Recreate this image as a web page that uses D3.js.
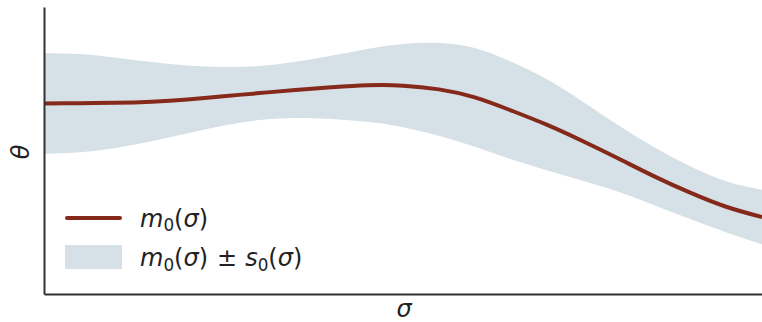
<!DOCTYPE html>
<html>
<head>
<meta charset="utf-8">
<script src="https://cdn.jsdelivr.net/npm/d3@7"></script>
<style>
  html, body { margin: 0; padding: 0; background: #ffffff; }
  svg { display: block; }
  text { font-family: "DejaVu Sans", sans-serif; fill: #222222; }
</style>
</head>
<body>
<svg id="chart" width="762" height="322"></svg>
<script>
// Sample locations along sigma (normalised 0..1)
const sigma = [0, 0.05, 0.10, 0.15, 0.20, 0.25, 0.30, 0.35, 0.40, 0.45, 0.50,
               0.55, 0.60, 0.65, 0.70, 0.75, 0.80, 0.85, 0.90, 0.95, 1.00];
// Posterior mean m0(sigma)
const meanValues = [0.664, 0.665, 0.666, 0.670, 0.678, 0.689, 0.700, 0.711, 0.720, 0.727, 0.726,
                    0.713, 0.685, 0.640, 0.590, 0.533, 0.472, 0.410, 0.353, 0.304, 0.268];
// Posterior standard deviation s0(sigma)
const sdValues = [0.175, 0.171, 0.157, 0.138, 0.118, 0.102, 0.094, 0.098, 0.110, 0.127, 0.145,
                  0.162, 0.172, 0.170, 0.159, 0.138, 0.116, 0.101, 0.092, 0.089, 0.095];
const thetaDomain = [0, 1];

const svg = d3.select("#chart");
const margin = { left: 44, right: 0, top: 7, bottom: 28 };
const W = 762, H = 322;

const x = d3.scaleLinear().domain([0, 1]).range([margin.left, W - margin.right]);
const y = d3.scaleLinear().domain(thetaDomain).range([H - margin.bottom, margin.top]);

const pts = sigma.map((s, i) => ({ s, m: meanValues[i], sd: sdValues[i] }));

// Uncertainty band: m0 ± s0
const band = d3.area()
  .x(d => x(d.s))
  .y0(d => y(d.m - d.sd))
  .y1(d => y(d.m + d.sd))
  .curve(d3.curveNatural);

svg.append("path")
  .datum(pts)
  .attr("d", band)
  .attr("fill", "#d6e0e7");

// Mean curve
const line = d3.line()
  .x(d => x(d.s))
  .y(d => y(d.m))
  .curve(d3.curveNatural);

svg.append("path")
  .datum(pts)
  .attr("d", line)
  .attr("fill", "none")
  .attr("stroke", "#85291b")
  .attr("stroke-width", 4);

// Axes (spines only, no ticks)
const xAxis = d3.axisBottom(x).tickValues([]).tickSizeOuter(0);
const yAxis = d3.axisLeft(y).tickValues([]).tickSizeOuter(0);

svg.append("g")
  .attr("transform", `translate(0,${H - margin.bottom})`)
  .call(xAxis)
  .call(g => g.select(".domain").attr("stroke", "#333333").attr("stroke-width", 2));

svg.append("g")
  .attr("transform", `translate(${margin.left},0)`)
  .call(yAxis)
  .call(g => g.select(".domain").attr("stroke", "#333333").attr("stroke-width", 2));

// Axis labels
svg.append("text")
  .attr("x", 404)
  .attr("y", 317)
  .attr("text-anchor", "middle")
  .attr("font-size", 24)
  .attr("font-style", "italic")
  .text("σ");

svg.append("text")
  .attr("transform", "translate(28.5,152) rotate(-90)")
  .attr("text-anchor", "middle")
  .attr("font-size", 24)
  .attr("font-style", "italic")
  .text("θ");

// Legend
function mathLabel(g, parts, xPos, yPos) {
  const t = g.append("text").attr("x", xPos).attr("y", yPos).attr("font-size", 24);
  parts.forEach(p => {
    const ts = t.append("tspan").text(p.t);
    if (p.i) ts.attr("font-style", "italic");
    if (p.sub) ts.attr("font-size", 16.8).attr("dy", 4.5);
    if (p.up) ts.attr("dy", -4.5);
    if (p.dx) ts.attr("dx", p.dx);
  });
}

const legend = svg.append("g");
legend.append("line")
  .attr("x1", 67).attr("x2", 120)
  .attr("y1", 218).attr("y2", 218)
  .attr("stroke", "#85291b")
  .attr("stroke-width", 4)
  .attr("stroke-linecap", "round");
legend.append("rect")
  .attr("x", 65).attr("y", 245)
  .attr("width", 57).attr("height", 24)
  .attr("fill", "#d6e0e7");

mathLabel(legend, [
  { t: "m", i: true }, { t: "0", sub: true }, { t: "(", up: true },
  { t: "σ", i: true }, { t: ")" }
], 140, 226.5);

mathLabel(legend, [
  { t: "m", i: true }, { t: "0", sub: true }, { t: "(", up: true },
  { t: "σ", i: true }, { t: ")" }, { t: "±", dx: 9 },
  { t: "s", i: true, dx: 8 }, { t: "0", sub: true }, { t: "(", up: true },
  { t: "σ", i: true }, { t: ")" }
], 140, 266);
</script>
</body>
</html>
